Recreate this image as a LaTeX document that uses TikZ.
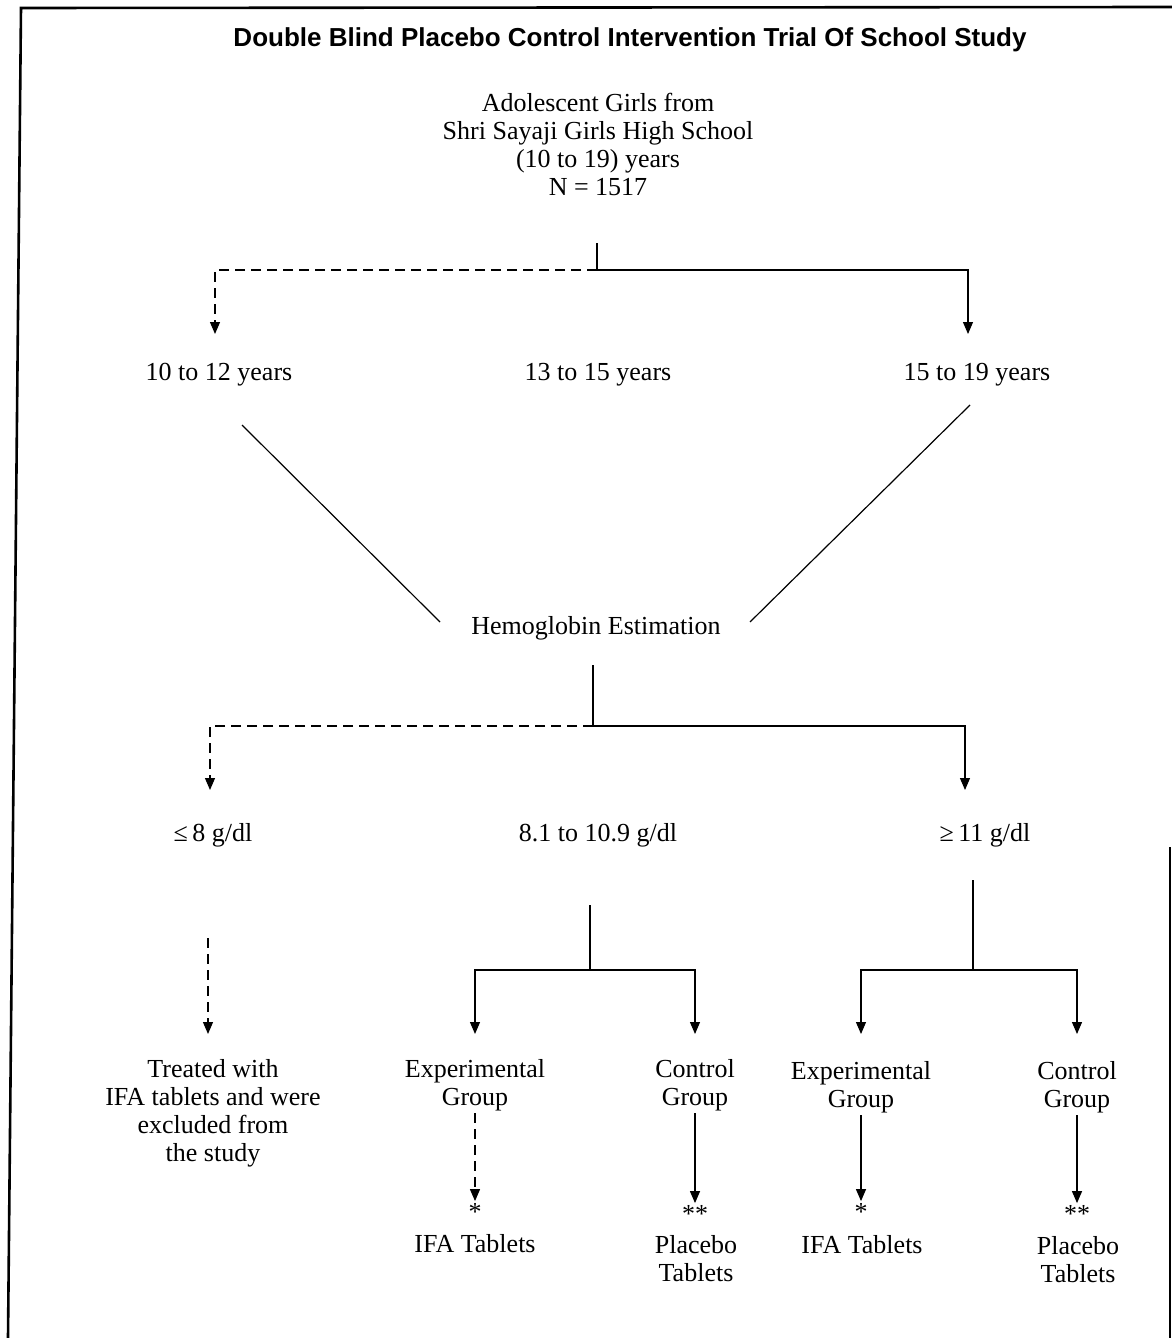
\documentclass[tikz,border=0pt]{standalone}
\usepackage{fontspec}
\setmainfont{Liberation Serif}
\newfontfamily\headfont{Liberation Sans}
\usetikzlibrary{arrows.meta}

\begin{document}
\begin{tikzpicture}[x=0.5pt,y=-0.5pt,
    lbl/.style={align=center,font=\fontsize{13}{14}\selectfont,inner sep=1pt},
    link/.style={line width=0.6pt},
    down/.style={link,-{Triangle[width=5pt,length=6pt]}},
    faded/.style={down,dash pattern=on 5pt off 3pt}]
\useasboundingbox (0,0) rectangle (1172,1338);
% frame, open at the foot
\draw[line width=1.3pt] (8,1338) -- (21,8) -- (1172,7);
\draw[line width=1.3pt] (1170,847) -- (1170,1338);

\node[font=\headfont\bfseries\fontsize{13}{15}\selectfont] (title) at (630,40)
    {Double Blind Placebo Control Intervention Trial Of School Study};

\node[lbl] (girls) at (598,144) {Adolescent Girls from\\Shri Sayaji Girls High School\\(10 to 19) years\\N = 1517};

% age groups
\node[lbl] (ageA) at (219,375) {10 to 12 years};
\node[lbl] (ageB) at (598,375) {13 to 15 years};
\node[lbl] (ageC) at (977,375) {15 to 19 years};
\coordinate (j1) at (597,270);
\coordinate (tipA) at (215,334);
\coordinate (tipC) at (968,334);
\draw[link] (597,243) -- (j1);
\draw[faded] (j1) -| (tipA);
\draw[down] (j1) -| (tipC);

\node[lbl] (hb) at (596,628) {Hemoglobin Estimation};
\draw[link] (242,425) -- (440,622);
\draw[link] (970,405) -- (750,622);

% haemoglobin levels
\node[lbl] (lvA) at (213,835) {≤\,8 g/dl};
\node[lbl] (lvB) at (598,835) {8.1 to 10.9 g/dl};
\node[lbl] (lvC) at (985,835) {≥\,11 g/dl};
\coordinate (j2) at (593,726);
\coordinate (tipD) at (210,790);
\coordinate (tipF) at (965,790);
\draw[link] (593,665) -- (j2);
\draw[faded] (j2) -| (tipD);
\draw[down] (j2) -| (tipF);

% groups
\node[lbl] (excl) at (213,1113) {Treated with\\IFA tablets and were\\excluded from\\the study};
\node[lbl] (expB) at (475,1085) {Experimental\\Group};
\node[lbl] (conB) at (695,1085) {Control\\Group};
\node[lbl] (expC) at (861,1087) {Experimental\\Group};
\node[lbl] (conC) at (1077,1087) {Control\\Group};

\draw[faded] (208,938) -- (208,1034);
\coordinate (j3) at (590,970);
\draw[link] (590,905) -- (j3);
\draw[down] (j3) -| (475,1034);
\draw[down] (j3) -| (695,1034);
\coordinate (j4) at (973,970);
\draw[link] (973,880) -- (j4);
\draw[down] (j4) -| (861,1034);
\draw[down] (j4) -| (1077,1034);

% tablets
\node[lbl] (star1) at (475,1212) {*};
\node[lbl] (star2) at (695,1214) {**};
\node[lbl] (star3) at (861,1212) {*};
\node[lbl] (star4) at (1077,1214) {**};
\node[lbl] (ifaB) at (475,1244) {IFA Tablets};
\node[lbl] (plaB) at (696,1259) {Placebo\\Tablets};
\node[lbl] (ifaC) at (862,1245) {IFA Tablets};
\node[lbl] (plaC) at (1078,1260) {Placebo\\Tablets};

\draw[faded] (expB) -- (star1);
\draw[down] (conB) -- (star2);
\draw[down] (expC) -- (star3);
\draw[down] (conC) -- (star4);
\end{tikzpicture}
\end{document}
